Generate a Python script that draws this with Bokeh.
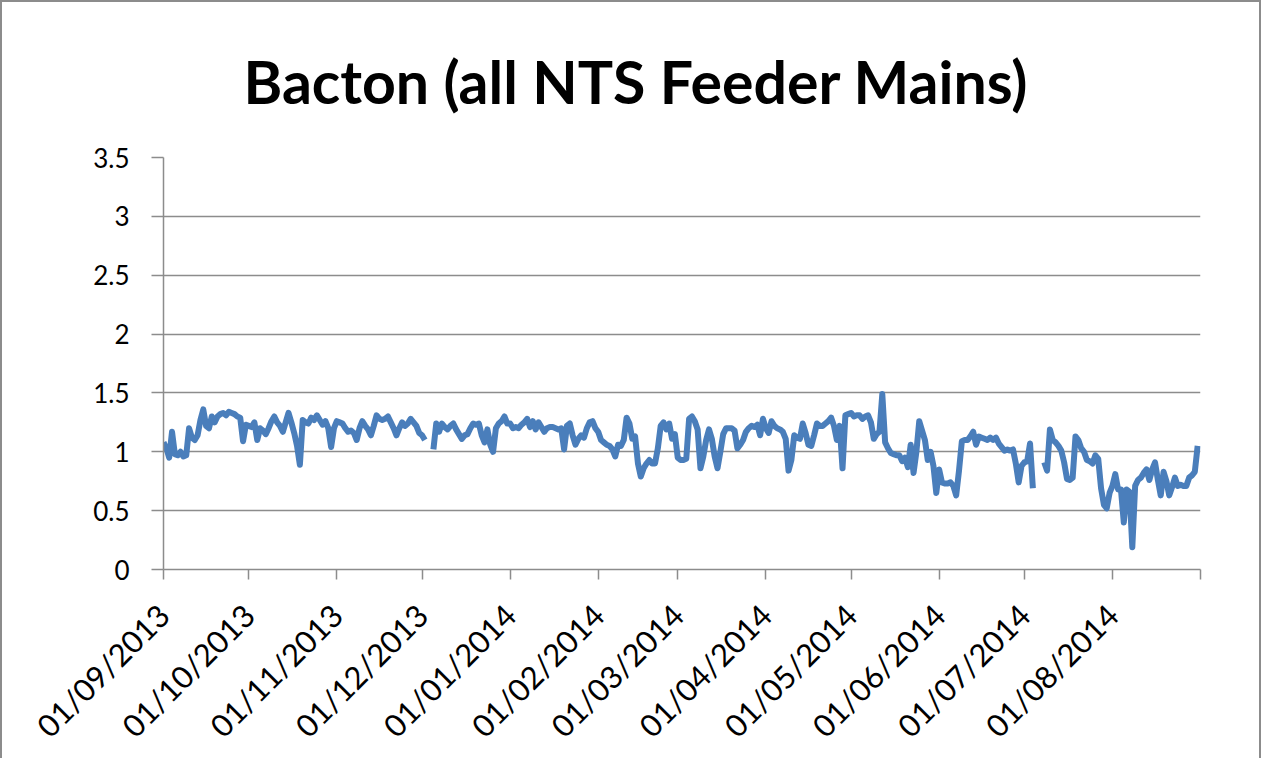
import math
import pandas as pd
from bokeh.plotting import figure
from bokeh.models import FixedTicker, ColumnDataSource
from bokeh.embed import file_html
from bokeh.resources import INLINE

nan = float("nan")

title_text = "Bacton (all NTS Feeder Mains)"
start_date = "2013-09-01"
month_starts = ["2013-09-01", "2013-10-01", "2013-11-01", "2013-12-01", "2014-01-01",
                "2014-02-01", "2014-03-01", "2014-04-01", "2014-05-01", "2014-06-01",
                "2014-07-01", "2014-08-01", "2014-09-01"]
tick_labels = ["01/09/2013", "01/10/2013", "01/11/2013", "01/12/2013", "01/01/2014",
               "01/02/2014", "01/03/2014", "01/04/2014", "01/05/2014", "01/06/2014",
               "01/07/2014", "01/08/2014", ""]
y_ticks = [0, 0.5, 1, 1.5, 2, 2.5, 3, 3.5]

# daily values per month
sep13 = [1.08, 1.03, 0.95, 1.17, 0.98, 0.97, 1.00, 0.96, 0.97, 1.20,
         1.12, 1.10, 1.14, 1.27, 1.36, 1.22, 1.20, 1.30, 1.25, 1.30,
         1.32, 1.33, 1.31, 1.34, 1.33, 1.32, 1.30, 1.29, 1.09, 1.23]
oct13 = [1.22, 1.21, 1.25, 1.10, 1.20, 1.18, 1.15, 1.20, 1.26, 1.30,
         1.25, 1.22, 1.17, 1.25, 1.33, 1.25, 1.16, 1.05, 0.89, 1.27,
         1.25, 1.24, 1.29, 1.27, 1.31, 1.27, 1.23, 1.26, 1.20, 1.04,
         1.20]
nov13 = [1.26, 1.25, 1.24, 1.20, 1.17, 1.18, 1.16, 1.10, 1.20, 1.26,
         1.22, 1.19, 1.14, 1.22, 1.31, 1.28, 1.27, 1.28, 1.30, 1.25,
         1.20, 1.14, 1.20, 1.25, 1.22, 1.24, 1.28, 1.25, 1.22, 1.16]
dec13 = [1.14, 1.10, nan, nan, 1.02, 1.24, 1.17, 1.24, 1.21, 1.19,
         1.22, 1.24, 1.19, 1.15, 1.11, 1.14, 1.15, 1.20, 1.24, 1.23,
         1.24, 1.14, 1.08, 1.19, 1.06, 1.00, 1.20, 1.24, 1.26, 1.30,
         1.24]
jan14 = [1.24, 1.20, 1.21, 1.20, 1.23, 1.25, 1.28, 1.21, 1.26, 1.19,
         1.25, 1.21, 1.17, 1.20, 1.21, 1.21, 1.20, 1.19, 1.20, 1.02,
         1.22, 1.24, 1.14, 1.06, 1.11, 1.14, 1.12, 1.20, 1.25, 1.26,
         1.20]
feb14 = [1.17, 1.10, 1.08, 1.06, 1.05, 1.02, 0.96, 1.06, 1.05, 1.10,
         1.29, 1.24, 1.11, 1.13, 0.90, 0.79, 0.86, 0.90, 0.93, 0.90,
         0.90, 1.03, 1.22, 1.25, 1.19, 1.24, 1.11, 1.15]
mar14 = [0.95, 0.93, 0.93, 0.94, 1.28, 1.30, 1.26, 1.19, 0.86, 0.96,
         1.10, 1.19, 1.11, 0.96, 0.86, 1.00, 1.15, 1.20, 1.20, 1.20,
         1.18, 1.03, 1.06, 1.10, 1.17, 1.20, 1.22, 1.21, 1.23, 1.14,
         1.28]
apr14 = [1.20, 1.16, 1.26, 1.22, 1.20, 1.19, 1.17, 1.11, 0.84, 0.93,
         1.14, 1.12, 1.11, 1.24, 1.16, 1.06, 1.05, 1.14, 1.24, 1.22,
         1.22, 1.24, 1.26, 1.29, 1.22, 1.10, 1.22, 0.86, 1.31, 1.32]
may14 = [1.33, 1.30, 1.31, 1.31, 1.28, 1.30, 1.31, 1.25, 1.11, 1.15,
         1.17, 1.49, 1.08, 1.03, 0.99, 0.98, 0.97, 0.97, 0.92, 0.95,
         0.87, 1.06, 0.82, 1.00, 1.26, 1.18, 1.10, 0.93, 1.00, 0.88,
         0.65]
jun14 = [0.85, 0.74, 0.73, 0.73, 0.74, 0.71, 0.63, 0.84, 1.09, 1.10,
         1.10, 1.13, 1.17, 1.06, 1.13, 1.12, 1.11, 1.10, 1.12, 1.10,
         1.12, 1.07, 1.04, 1.01, 1.02, 1.01, 1.02, 0.90, 0.74, 0.88]
jul14 = [0.91, 0.92, 1.07, 0.69, nan, nan, nan, 0.91, 0.84, 1.19,
         1.10, 1.08, 1.05, 1.01, 0.91, 0.77, 0.76, 0.78, 1.13, 1.10,
         1.03, 1.00, 0.93, 0.92, 0.90, 0.97, 0.94, 0.69, 0.55, 0.52,
         0.65]
aug14 = [0.71, 0.81, 0.68, 0.68, 0.40, 0.68, 0.66, 0.19, 0.71, 0.76,
         0.78, 0.82, 0.85, 0.76, 0.85, 0.91, 0.76, 0.63, 0.83, 0.75,
         0.63, 0.70, 0.78, 0.71, 0.72, 0.71, 0.71, 0.78, 0.80, 0.83,
         1.05]

months = [sep13, oct13, nov13, dec13, jan14, feb14, mar14, apr14, may14, jun14, jul14, aug14]

t0 = pd.Timestamp(start_date)
xs, ys = [], []
for ms, vals in zip(month_starts[:-1], months):
    m0 = (pd.Timestamp(ms) - t0).days
    for i, v in enumerate(vals):
        xs.append(m0 + i)
        ys.append(v)

tick_pos = [(pd.Timestamp(d) - t0).days for d in month_starts]

GRID = "#8c8c8c"
FONT = "Lato"

p = figure(width=1261, height=758, output_backend="svg", toolbar_location=None,
           x_range=(tick_pos[0], tick_pos[-1]), y_range=(0, 3.5),
           min_border_left=161, min_border_right=63, min_border_top=154,
           min_border_bottom=188)
p.styles = {"border-top": "2px solid #8c8c8c", "border-left": "2px solid #8c8c8c",
            "border-right": "2px solid #8c8c8c"}
p.outline_line_color = None
p.background_fill_color = "white"
p.border_fill_color = "white"

p.title.text = title_text
p.title.text_font = FONT
p.title.text_font_style = "bold"
p.title.text_font_size = "59px"
p.title.text_color = "#000000"
p.title.align = "left"
p.title.offset = 80
p.title.standoff = 82

src = ColumnDataSource(data=dict(x=xs, y=ys))
p.line("x", "y", source=src, line_color="#4a7ebb", line_width=6, line_join="round")

p.xgrid.visible = False
p.ygrid.ticker = FixedTicker(ticks=y_ticks)
p.ygrid.grid_line_color = GRID
p.ygrid.grid_line_width = 1.5

p.yaxis.ticker = FixedTicker(ticks=y_ticks)
p.yaxis.major_label_overrides = {0: "0", 0.5: "0.5", 1: "1", 1.5: "1.5", 2: "2",
                                 2.5: "2.5", 3: "3", 3.5: "3.5"}
p.xaxis.ticker = FixedTicker(ticks=tick_pos)
p.xaxis.major_label_overrides = {tp: lab for tp, lab in zip(tick_pos, tick_labels)}
p.xaxis.major_label_orientation = math.pi / 4

for ax in (p.xaxis, p.yaxis):
    ax.axis_line_color = GRID
    ax.axis_line_width = 1.5
    ax.major_tick_line_color = GRID
    ax.major_tick_line_width = 1.5
    ax.major_tick_in = 0
    ax.minor_tick_line_color = None
    ax.major_label_text_font = FONT
    ax.major_label_text_color = "#000000"

p.yaxis.major_tick_out = 12
p.yaxis.major_label_text_font_size = "26px"
p.yaxis.major_label_standoff = 22
p.xaxis.major_tick_out = 10
p.xaxis.major_label_text_font_size = "31px"
p.xaxis.major_label_standoff = 30

open("out.html", "w").write(file_html(p, INLINE))
